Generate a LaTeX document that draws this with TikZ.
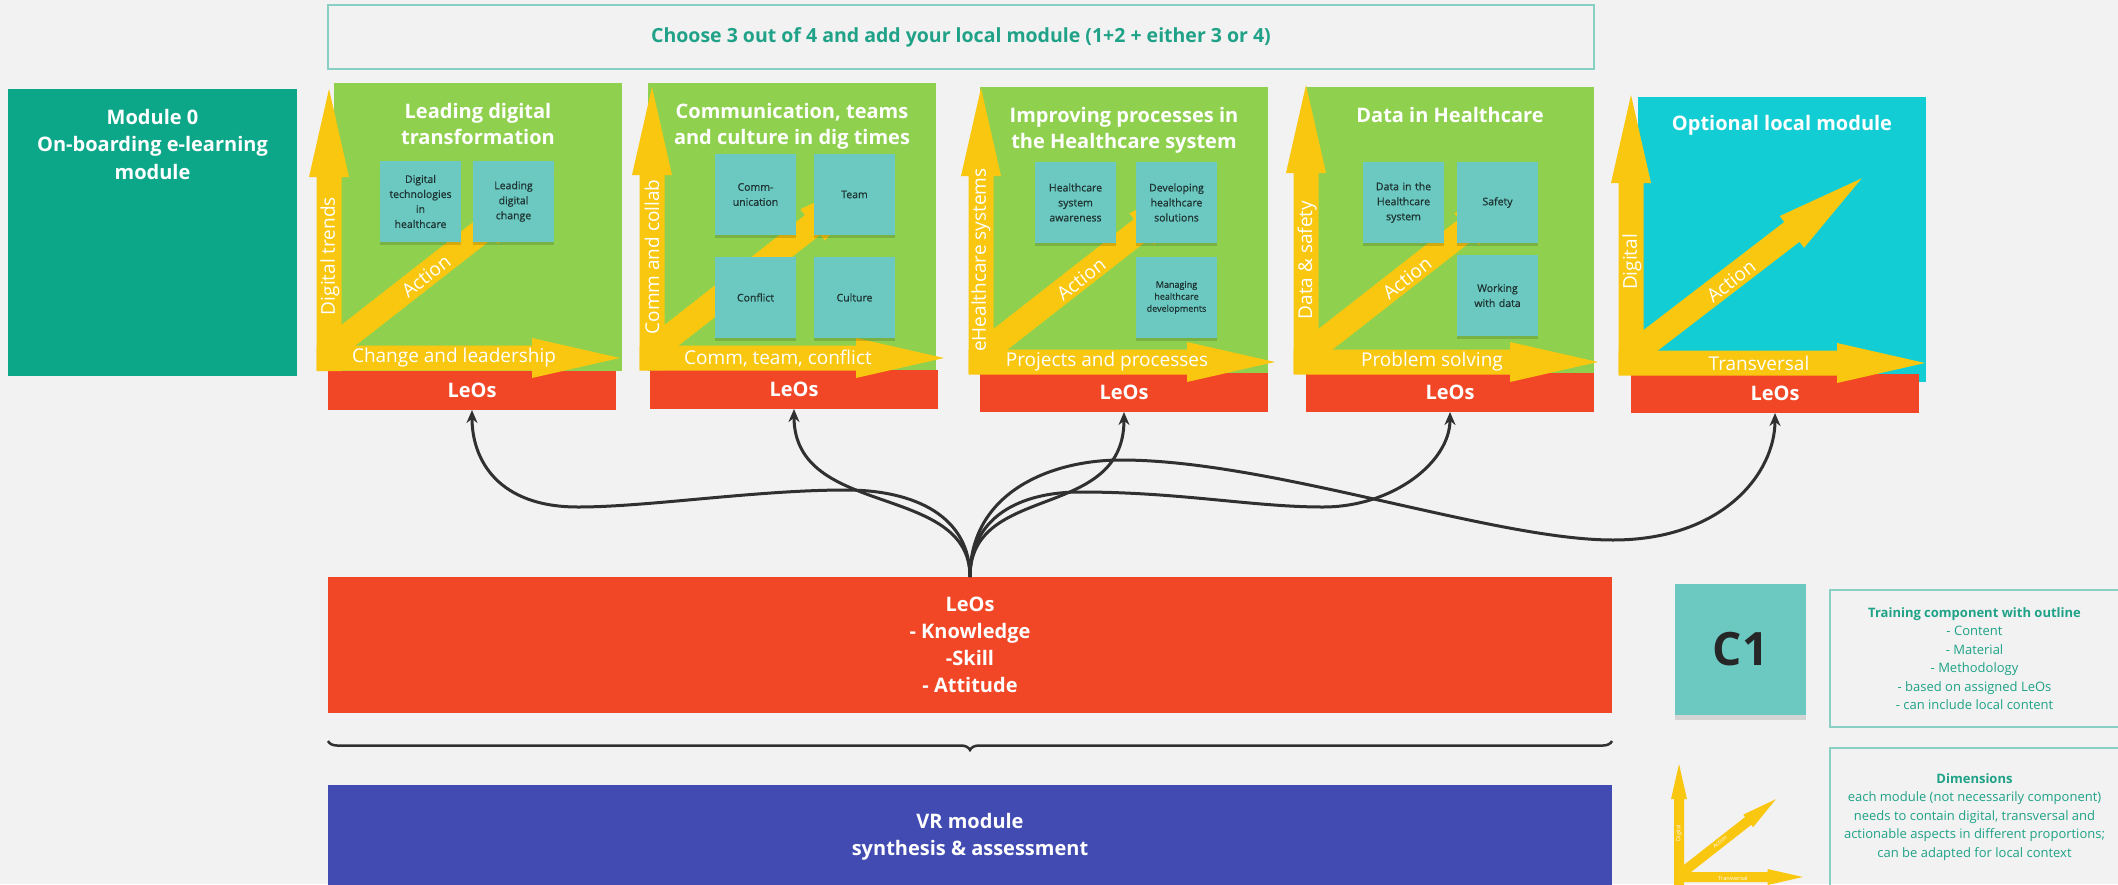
\documentclass[tikz,border=0pt]{standalone}
\usepackage{fontspec}
\setmainfont{Open Sans}
\newfontfamily\stickyfont{Open Sans}[FakeBold=0.8]
\usepackage{tikz}
\usetikzlibrary{positioning,shadows,decorations.pathreplacing,arrows.meta}

\definecolor{canvas}{HTML}{F2F2F2}
\definecolor{modgreen}{HTML}{8FD14F}
\definecolor{axisyellow}{HTML}{FAC710}
\definecolor{leored}{HTML}{F24726}
\definecolor{modteal}{HTML}{0CA789}
\definecolor{localcyan}{HTML}{12CDD4}
\definecolor{stickyteal}{HTML}{6CC9C2}
\definecolor{stickyink}{HTML}{1E3433}
\definecolor{vrblue}{HTML}{414BB2}
\definecolor{noteteal}{HTML}{1FA287}
\definecolor{noteframe}{HTML}{8ACFC3}
\definecolor{linkgray}{HTML}{303030}

\newcommand{\yarrow}[4][1]{%
	\fill[axisyellow,shift={#2},rotate=#3,scale=#1] (0,-12.5) -- ({#4-88},-12.5) -- ({#4-88},-20) -- (#4,0) -- ({#4-88},20) -- ({#4-88},12.5) -- (0,12.5) -- cycle;}

\begin{document}
\begin{tikzpicture}[x=1pt,y=1pt,
	box/.style={anchor=north west,inner sep=0pt,outer sep=0pt},
	modbox/.style={box,fill=modgreen,minimum width=288pt,minimum height=288pt},
	leosbar/.style={box,fill=leored,minimum width=288pt,minimum height=39pt,text=white,font=\bfseries\fontsize{20}{24}\selectfont},
	modtitle/.style={text=white,align=center,inner sep=0pt,font=\bfseries\fontsize{20}{26}\selectfont},
	axislabel/.style={text=white,inner sep=0pt,font=\fontsize{19}{22}\selectfont},
	sticky/.style={box,fill=stickyteal,text width=75pt,inner sep=3pt,minimum height=81pt,align=center,text=stickyink,font=\stickyfont\fontsize{10.5}{15}\selectfont,drop shadow={shadow xshift=0pt,shadow yshift=-2.5pt,opacity=0.15,fill=black}},
	notebox/.style={box,draw=noteframe,line width=1.5pt,text=noteteal,align=center,font=\fontsize{13}{18.5}\selectfont},
	leoslink/.style={draw=linkgray,line width=3pt,-{Stealth[length=13pt,width=11pt]}}]

	\path[use as bounding box,fill=canvas] (0,0) rectangle (2118,-884);
	\clip (0,0) rectangle (2118,-884);

	\node[notebox,minimum width=1266pt,minimum height=64pt,font=\bfseries\fontsize{19.5}{22}\selectfont] (choice) at (328,-5) {Choose 3 out of 4 and add your local module (1+2 + either 3 or 4)};

	\node[box,fill=modteal,minimum width=289pt,minimum height=287pt] (mod0) at (8,-89) {};
	\node[modtitle,font=\bfseries\fontsize{20}{27.5}\selectfont,below=20pt of mod0.north] {Module 0\\On-boarding e-learning\\module};

	\node[modbox] (m1) at (334,-83) {};
	\node[modbox] (m2) at (648,-83) {};
	\node[modbox] (m3) at (980,-87) {};
	\node[modbox] (m4) at (1306,-87) {};
	\node[modbox,fill=localcyan,minimum height=285pt] (m5) at (1638,-97) {};

	\node[leosbar] (leos1) at (328,-371) {LeOs};
	\node[leosbar] (leos2) at (650,-370) {LeOs};
	\node[leosbar] (leos3) at (980,-373) {LeOs};
	\node[leosbar] (leos4) at (1306,-373) {LeOs};
	\node[leosbar] (leos5) at (1631,-374) {LeOs};

	\foreach \vx/\vb/\vt/\hy/\ht/\dl/\da in {329/371/89/358/620/278/38,652/370/87/358/944/283/38,981/373/88/362/1275/283/38,1306/373/85/362/1598/283/38,1631/374/95/363/1925/282/37.5}{
		\yarrow{(\vx,-\vb)}{90}{\vb-\vt}
		\yarrow{(\vx-12.5,-\hy)}{0}{\ht-\vx+12.5}
		\yarrow{(\vx+7,-\hy+13)}{\da}{\dl}
	}

	\node[sticky] (tech) at (380,-161) {Digital\\technologies\\in\\healthcare};
	\node[sticky] (change) at (473,-161) {Leading\\digital\\change};
	\node[sticky] (comm) at (715,-154) {Comm-\\unication};
	\node[sticky] (team) at (814,-154) {Team};
	\node[sticky] (conflict) at (715,-257) {Conflict};
	\node[sticky] (culture) at (814,-257) {Culture};
	\node[sticky] (aware) at (1035,-162) {Healthcare\\system\\awareness};
	\node[sticky] (develop) at (1136,-162) {Developing\\healthcare\\solutions};
	\node[sticky,font=\stickyfont\fontsize{9}{12}\selectfont] (manage) at (1136,-257) {Managing\\healthcare\\developments};
	\node[sticky] (datasys) at (1363,-162) {Data in the\\Healthcare\\system};
	\node[sticky] (safety) at (1457,-162) {Safety};
	\node[sticky] (workdata) at (1457,-255) {Working\\with data};

	\node[modtitle,below=20pt of m1.north] {Leading digital\\transformation};
	\node[modtitle,below=20pt of m2.north] {Communication, teams\\and culture in dig times};
	\node[modtitle,below=20pt of m3.north] {Improving processes in\\the Healthcare system};
	\node[modtitle,below=20pt of m4.north] {Data in Healthcare};
	\node[modtitle,below=18pt of m5.north] {Optional local module};

	\node[axislabel,rotate=90] at (330,-256) {Digital trends};
	\node[axislabel,rotate=90] at (652,-257) {Comm and collab};
	\node[axislabel,rotate=90] at (981,-260) {eHealthcare systems};
	\node[axislabel,rotate=90] at (1307,-260) {Data \& safety};
	\node[axislabel,rotate=90] at (1632,-262) {Digital};
	\node[axislabel] at (454,-358) {Change and leadership};
	\node[axislabel] at (778,-358) {Comm, team, conflict};
	\node[axislabel] at (1107,-362) {Projects and processes};
	\node[axislabel] at (1432,-362) {Problem solving};
	\node[axislabel] at (1759,-363) {Transversal};
	\node[axislabel,rotate=38] at (426,-276) {Action};
	\node[axislabel,rotate=38] at (1081,-279) {Action};
	\node[axislabel,rotate=38] at (1407,-278) {Action};
	\node[axislabel,rotate=38] at (1731,-281) {Action};

	\node[box,fill=leored,minimum width=1284pt,minimum height=136pt,text=white,align=center,font=\bfseries\fontsize{20}{27}\selectfont] (allleos) at (328,-577) {LeOs\\- Knowledge\\-Skill\\- Attitude};

	\draw[decorate,decoration={brace,mirror,amplitude=9pt},line width=2.5pt,linkgray] (328,-741) -- (1612,-741);

	\node[box,fill=vrblue,minimum width=1284pt,minimum height=104pt,text=white,align=center,font=\bfseries\fontsize{20}{27}\selectfont] (vr) at (328,-785) {VR module\\synthesis \& assessment};

	\node[box,fill=stickyteal,minimum width=131pt,minimum height=131pt,text=black!85,font=\bfseries\fontsize{46}{50}\selectfont,drop shadow={shadow xshift=0pt,shadow yshift=-5pt,opacity=0.12,fill=black}] (c1) at (1675,-584) {C1};

	\node[notebox,minimum width=289pt,minimum height=137pt] (outline) at (1830,-590) {\textbf{Training component with outline}\\- Content\\- Material\\- Methodology\\- based on assigned LeOs\\- can include local content};
	\node[notebox,minimum width=289pt,minimum height=138pt] (dims) at (1830,-748) {\textbf{Dimensions}\\each module (not necessarily component)\\needs to contain digital, transversal and\\actionable aspects in different proportions;\\can be adapted for local context};

	\yarrow[0.4]{(1679,-890)}{90}{315}
	\yarrow[0.4]{(1674,-877)}{0}{322}
	\yarrow[0.4]{(1683,-872)}{38.1}{295}
	\node[axislabel,font=\fontsize{5.5}{6}\selectfont,rotate=90] at (1679,-833) {Digital};
	\node[axislabel,font=\fontsize{5.5}{6}\selectfont,rotate=38] at (1720,-842) {Action};
	\node[axislabel,font=\fontsize{5.5}{6}\selectfont] at (1733,-878) {Transversal};

	\draw[leoslink] (allleos.north) .. controls +(0,60) and +(70,0) .. (846,-490) .. controls +(-90,0) and +(70,0) .. (578,-507) .. controls +(-80,0) and +(0,-50) .. (leos1.south);
	\draw[leoslink] (allleos.north) .. controls +(0,95) and +(0,-110) .. (leos2.south);
	\draw[leoslink] (allleos.north) .. controls +(0,95) and +(0,-110) .. (leos3.south);
	\draw[leoslink] (allleos.north) .. controls +(0,60) and +(-60,0) .. (1080,-492) .. controls +(100,0) and +(-70,0) .. (1323,-507) .. controls +(70,0) and +(0,-50) .. (leos4.south);
	\draw[leoslink] (allleos.north) .. controls +(0,85) and +(-70,0) .. (1121,-460) .. controls +(150,0) and +(-120,0) .. (1613,-540) .. controls +(110,0) and +(0,-60) .. (leos5.south);
\end{tikzpicture}
\end{document}
